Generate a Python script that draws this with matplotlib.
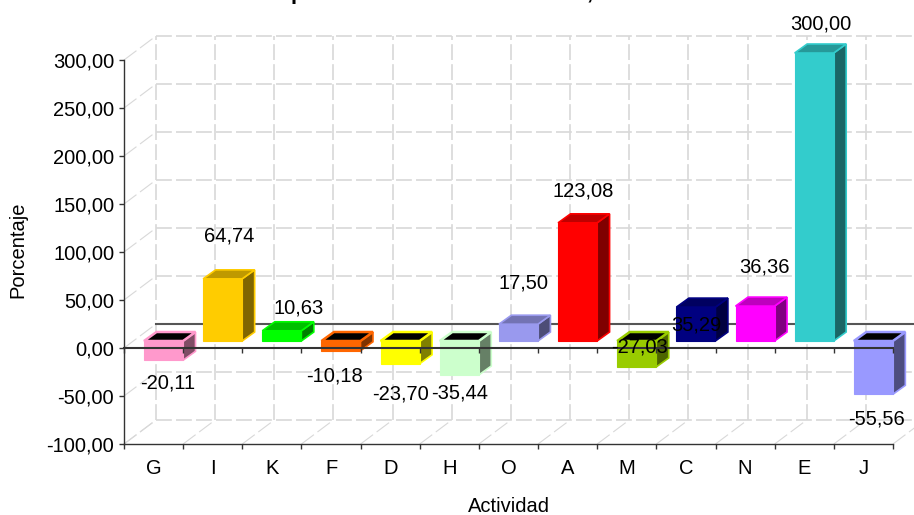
import matplotlib
matplotlib.use('Agg')
from matplotlib import pyplot as plt
from matplotlib.patches import Polygon
from matplotlib.colors import to_rgb

categories = ['G', 'I', 'K', 'F', 'D', 'H', 'O', 'A', 'M', 'C', 'N', 'E', 'J']
values = [-20.11, 64.74, 10.63, -10.18, -23.70, -35.44, 17.50, 123.08, -27.03, 35.29, 36.36, 300.00, -55.56]
value_labels = ['-20,11', '64,74', '10,63', '-10,18', '-23,70', '-35,44', '17,50',
                '123,08', '-27,03', '35,29', '36,36', '300,00', '-55,56']
bar_colors = ['#FF99CC', '#FFCC00', '#00FF00', '#FF6600', '#FFFF00', '#CCFFCC', '#9999EE',
              '#FF0000', '#99CC00', '#000080', '#FF00FF', '#33CCCC', '#9999FF']
y_ticks = [-100, -50, 0, 50, 100, 150, 200, 250, 300]
y_tick_labels = ['-100,00', '-50,00', '0,00', '50,00', '100,00', '150,00', '200,00', '250,00', '300,00']
# label offsets from the bar end, in pixels
label_dx = [4, 7, 17, -6, 0, 0, 5, 6, 3, 0, 9, 7, 3]
label_dy = [-23, 43, 23, -25, -30, -18, 41, 32, 20, -18, 39, 29, -25]

W, H = 914, 515
plt.rcParams['font.family'] = ['Liberation Sans', 'DejaVu Sans']
plt.rcParams['font.size'] = 14.5

fig = plt.figure(figsize=(W / 100, H / 100), dpi=100)
# front plane of the chart box
left, right, top, bottom = 124, 893, 60, 444
ax = fig.add_axes([left / W, 1 - bottom / H, (right - left) / W, (bottom - top) / H])
ax.set_xlim(0, len(categories))
ax.set_ylim(-100, 300)
ax.patch.set_visible(False)
for s in ['top', 'right']:
    ax.spines[s].set_visible(False)
for s in ['left', 'bottom']:
    ax.spines[s].set_color('#333333')
    ax.spines[s].set_linewidth(1.0)

ux = len(categories) / (right - left)  # data units per pixel
uy = 400 / (bottom - top)
depth_x, depth_y = 32 * ux, 24 * uy    # depth of the box
grid_c = '#D8D8D8'


def wall_line(xs, ys):
    ax.plot(xs, ys, color=grid_c, lw=1.2, ls=(0, (9.5, 2.5)), clip_on=False, zorder=1)


def diag_line(xs, ys):
    ax.plot(xs, ys, color=grid_c, lw=0.8, ls=(0, (14, 4)), clip_on=False, zorder=1)


n = len(categories)
x_back_end = n + 21 * ux
for t in y_ticks:
    wall_line([depth_x, x_back_end], [t + depth_y, t + depth_y])
    diag_line([0, depth_x], [t, t + depth_y])
for i in range(n + 1):
    diag_line([i, i + depth_x], [-100, -100 + depth_y])
    if i + depth_x <= x_back_end:
        wall_line([i + depth_x, i + depth_x], [-100 + depth_y, 300 + depth_y])

# zero plane, back edge
ax.plot([depth_x, x_back_end], [depth_y, depth_y], color='#555555', lw=1.5, clip_on=False, zorder=2)

bar_w = 39 * ux
bar_shift = 20 * ux
base_y = 7 * uy                     # bars sit inside the box depth
bar_dx, bar_dy = 12.5 * ux, 9 * uy  # depth of one bar


def shade(c, f):
    return tuple(v * f for v in to_rgb(c))


for i, (v, c) in enumerate(zip(values, bar_colors)):
    x0 = i + bar_shift
    x1 = x0 + bar_w
    b = base_y
    t = base_y + v
    hi, lo = max(b, t), min(b, t)
    side = [(x1, lo), (x1 + bar_dx, lo + bar_dy), (x1 + bar_dx, hi + bar_dy), (x1, hi)]
    lid = [(x0, hi), (x0 + bar_dx, hi + bar_dy), (x1 + bar_dx, hi + bar_dy), (x1, hi)]
    front = [(x0, lo), (x1, lo), (x1, hi), (x0, hi)]
    ax.add_patch(Polygon(side, fc=shade(c, 0.5), ec=c, lw=1.2, clip_on=False, zorder=3 + i * 0.01))
    # negative bars look down into a black top
    lid_c = 'black' if v < 0 else shade(c, 0.75)
    ax.add_patch(Polygon(lid, fc=lid_c, ec=c, lw=1.8 if v < 0 else 1.2, clip_on=False, zorder=3 + i * 0.01))
    ax.add_patch(Polygon(front, fc=c, ec=c, lw=0.8, clip_on=False, zorder=3 + i * 0.01))

# front zero line goes over the bars, with its own small ticks
ax.plot([0, n], [0, 0], color='#333333', lw=1.5, clip_on=False, zorder=5)
ax.vlines(range(n + 1), -5 * uy, 0, color='#333333', lw=1.0, zorder=5, clip_on=False)

for i, v in enumerate(values):
    cx = i + bar_shift + bar_w / 2
    ax.annotate(value_labels[i], xy=(cx, base_y + v), xytext=(label_dx[i], label_dy[i]),
                textcoords='offset pixels', ha='center', va='center', zorder=6,
                annotation_clip=False)

ax.set_yticks(y_ticks)
ax.set_yticklabels(y_tick_labels)
ax.set_xticks(range(n + 1))
ax.set_xticklabels([''] * (n + 1))
ax.tick_params(axis='both', length=3.6, width=1.0, color='#333333', pad=3.5)
for i, name in enumerate(categories):
    ax.text(i + 0.5, -100 - 25 * uy, name, ha='center', va='center', zorder=6)

fig.text(509 / W, 1 - 507 / H, 'Actividad', ha='center', va='center')
fig.text(18 / W, 1 - 250 / H, 'Porcentaje', rotation=90, ha='center', va='center')
# the title is cut off by the top edge of the picture; only these marks are readable
fig.text(297 / W, 1 + 1 / H, 'p', fontweight='bold', fontsize=16, ha='center', va='baseline')
fig.text(590 / W, 1 + 1 / H, ',', fontweight='bold', fontsize=16, ha='center', va='baseline')

fig.savefig('out.png', dpi=100)
